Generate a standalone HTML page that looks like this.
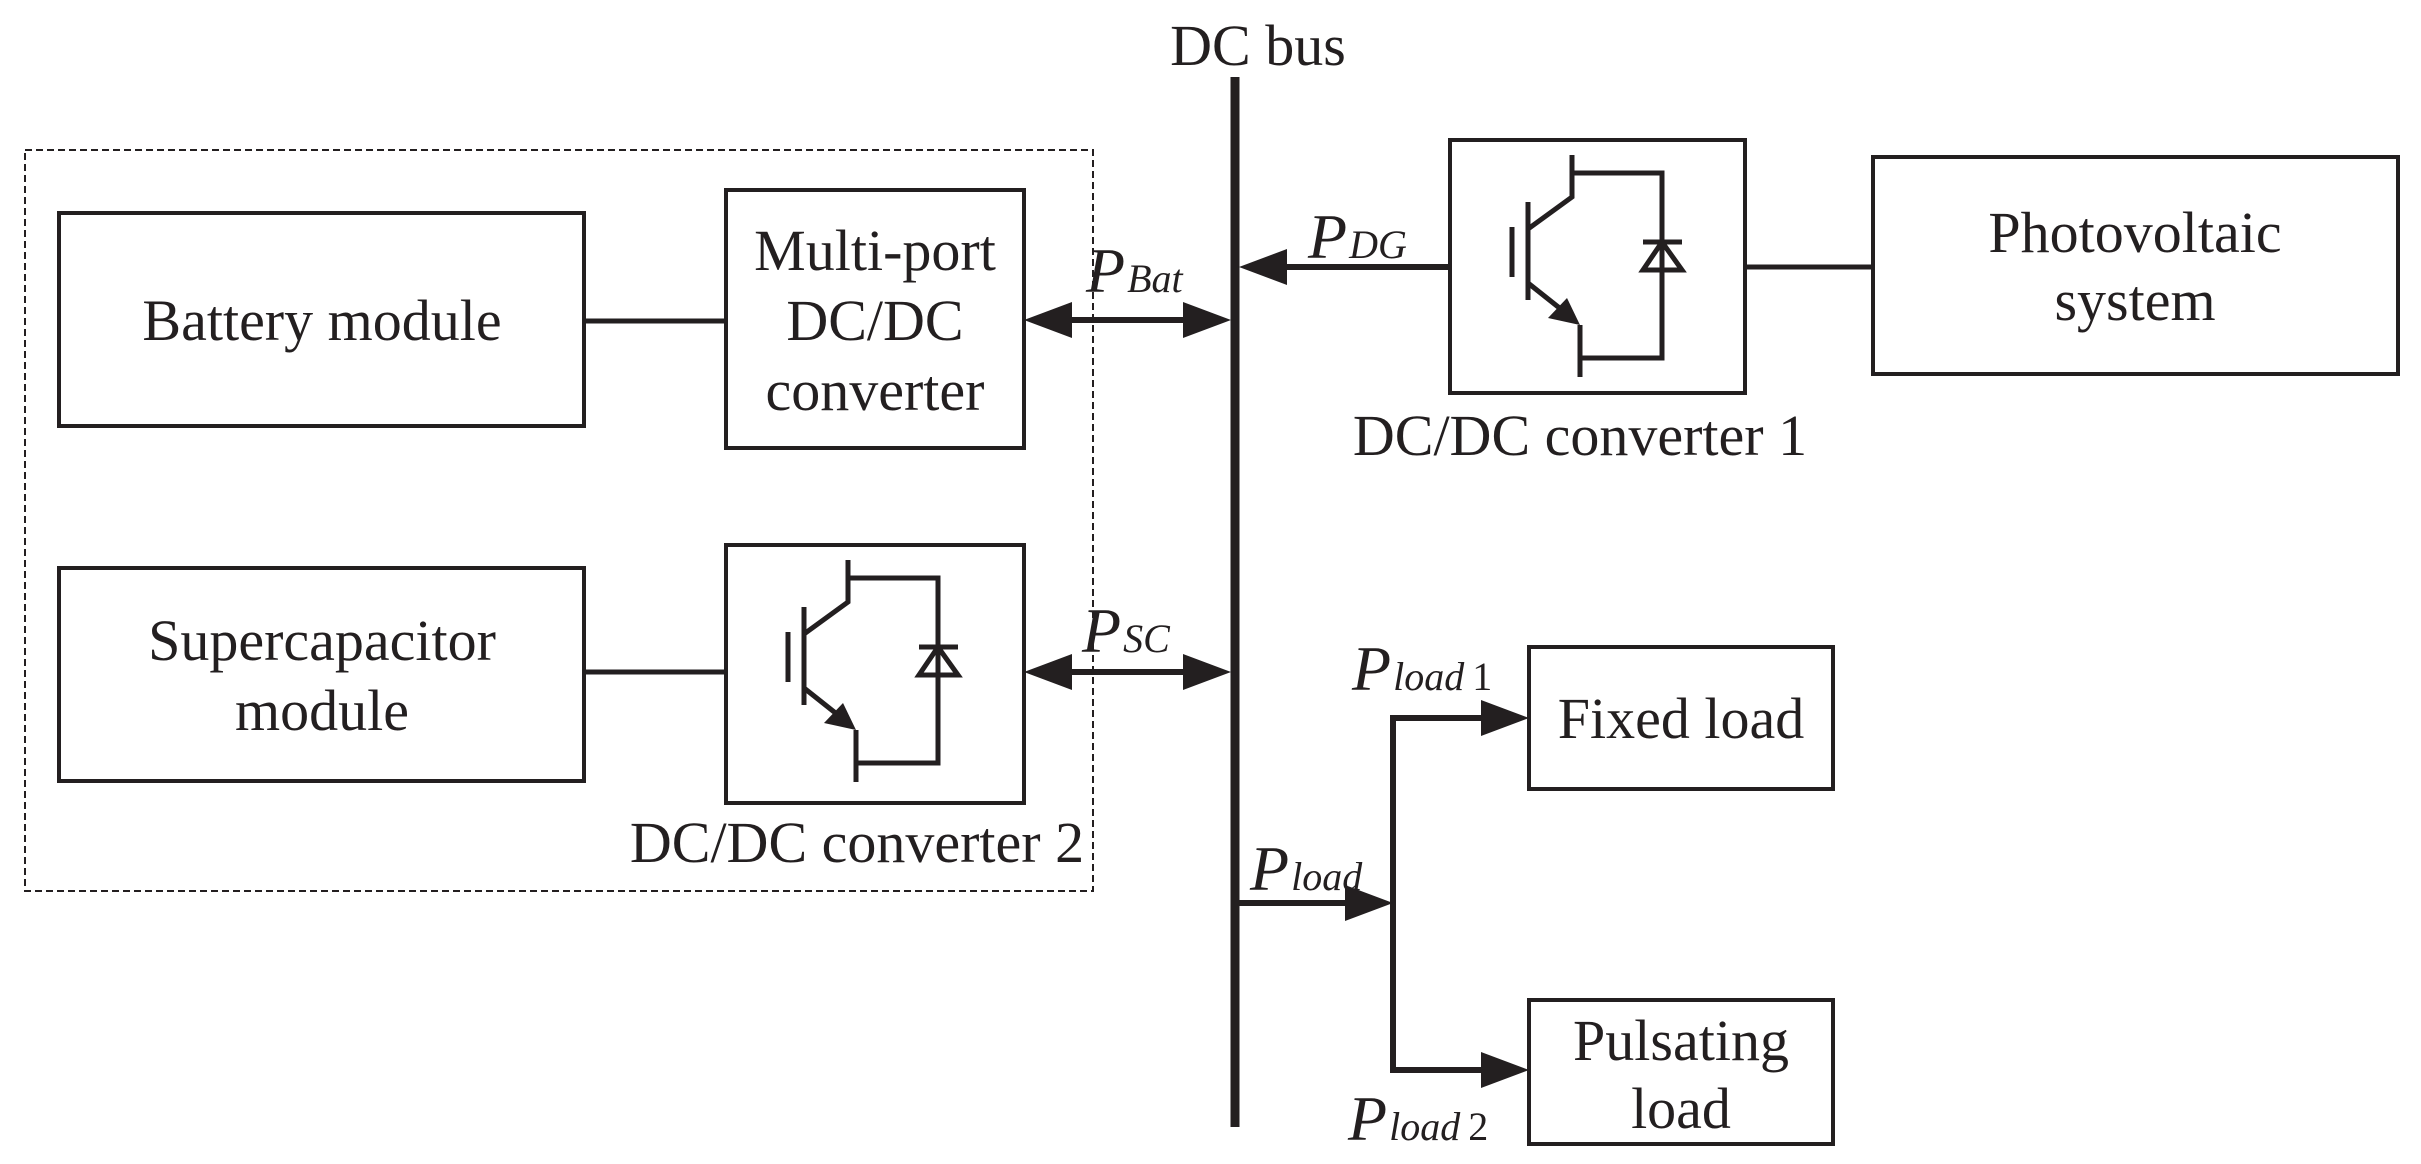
<!DOCTYPE html>
<html><head><meta charset="utf-8"><style>
html,body{margin:0;padding:0;background:#fff;}
svg{display:block;}
text{font-family:"Liberation Serif",serif;fill:#231f20;}
.t{font-size:58px;}
.p{font-size:64px;font-style:italic;}
.s{font-size:40px;font-style:italic;}
.n{font-size:40px;font-style:normal;}
</style></head><body>
<svg width="2421" height="1164" viewBox="0 0 2421 1164" xmlns="http://www.w3.org/2000/svg">
<defs>
<g id="igbt" fill="none" stroke="#231f20" stroke-width="5">
<line x1="62" y1="87" x2="62" y2="137"/>
<line x1="78" y1="62" x2="78" y2="160"/>
<polyline points="78,89 122,57 122,15"/>
<polyline points="122,33 212,33 212,218 132,218"/>
<line x1="130" y1="185" x2="130" y2="237"/>
<line x1="78" y1="143" x2="112" y2="170"/>
<polygon points="130,185 98,178 117,158" fill="#231f20" stroke="none"/>
<line x1="193" y1="102" x2="232" y2="102"/>
<polygon points="212,102 193,130 232,130"/>
</g>
</defs>
<g fill="none" stroke="#231f20" stroke-width="4">
<rect x="25" y="150" width="1068" height="741" stroke-width="2" stroke-dasharray="7,4"/>
<rect x="59" y="213" width="525" height="213"/>
<rect x="726" y="190" width="298" height="258"/>
<rect x="59" y="568" width="525" height="213"/>
<rect x="726" y="545" width="298" height="258"/>
<rect x="1450" y="140" width="295" height="253"/>
<rect x="1873" y="157" width="525" height="217"/>
<rect x="1529" y="647" width="304" height="142"/>
<rect x="1529" y="1000" width="304" height="144"/>
<line x1="584" y1="321" x2="726" y2="321" stroke-width="5"/>
<line x1="584" y1="672" x2="726" y2="672" stroke-width="5"/>
<line x1="1745" y1="267" x2="1873" y2="267" stroke-width="5"/>
<line x1="1070" y1="320" x2="1195" y2="320" stroke-width="6"/>
<line x1="1070" y1="672" x2="1195" y2="672" stroke-width="6"/>
<line x1="1280" y1="267" x2="1450" y2="267" stroke-width="6"/>
<line x1="1235" y1="903" x2="1360" y2="903" stroke-width="6"/>
<polyline points="1488,718 1393,718 1393,1070 1488,1070" stroke-width="6"/>
<line x1="1235" y1="77" x2="1235" y2="1127" stroke-width="9"/>
</g>
<g fill="#231f20">
<polygon points="1024,320 1072,302 1072,338"/>
<polygon points="1231,320 1183,302 1183,338"/>
<polygon points="1024,672 1072,654 1072,690"/>
<polygon points="1231,672 1183,654 1183,690"/>
<polygon points="1239,267 1287,249 1287,285"/>
<polygon points="1393,903 1345,885 1345,921"/>
<polygon points="1529,718 1481,700 1481,736"/>
<polygon points="1529,1070 1481,1052 1481,1088"/>
</g>
<use href="#igbt" x="726" y="545"/>
<use href="#igbt" x="1450" y="140"/>
<text class="t" x="1258" y="65" text-anchor="middle">DC bus</text>
<text class="t" x="322" y="340" text-anchor="middle">Battery module</text>
<text class="t" x="875" y="270" text-anchor="middle">Multi-port</text>
<text class="t" x="875" y="340" text-anchor="middle">DC/DC</text>
<text class="t" x="875" y="410" text-anchor="middle">converter</text>
<text class="t" x="322" y="660" text-anchor="middle">Supercapacitor</text>
<text class="t" x="322" y="730" text-anchor="middle">module</text>
<text class="t" x="857" y="862" text-anchor="middle">DC/DC converter 2</text>
<text class="t" x="1580" y="455" text-anchor="middle">DC/DC converter 1</text>
<text class="t" x="2135" y="252" text-anchor="middle">Photovoltaic</text>
<text class="t" x="2135" y="320" text-anchor="middle">system</text>
<text class="t" x="1681" y="738" text-anchor="middle">Fixed load</text>
<text class="t" x="1681" y="1060" text-anchor="middle">Pulsating</text>
<text class="t" x="1681" y="1128" text-anchor="middle">load</text>
<text class="p" x="1086" y="292">P<tspan class="s" dx="2">Bat</tspan></text>
<text class="p" x="1082" y="652">P<tspan class="s" dx="2">SC</tspan></text>
<text class="p" x="1308" y="258">P<tspan class="s" dx="2">DG</tspan></text>
<text class="p" x="1250" y="890">P<tspan class="s" dx="2">load</tspan></text>
<text class="p" x="1352" y="690">P<tspan class="s" dx="2">load</tspan><tspan class="n" dx="8">1</tspan></text>
<text class="p" x="1348" y="1140">P<tspan class="s" dx="2">load</tspan><tspan class="n" dx="8">2</tspan></text>
</svg>
</body></html>
